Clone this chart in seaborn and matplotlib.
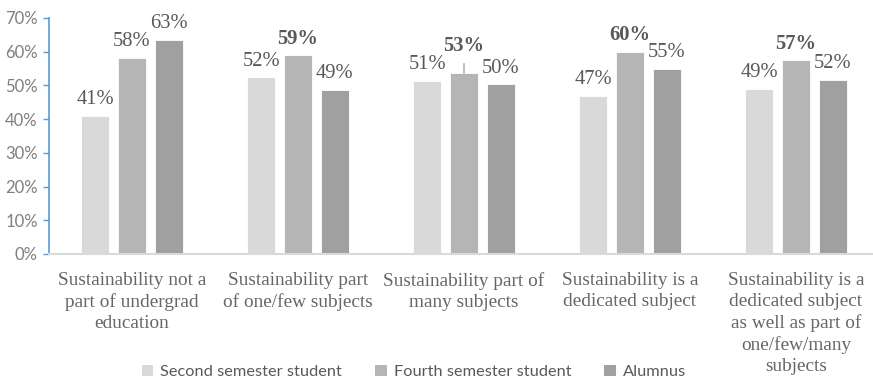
import matplotlib
matplotlib.use("Agg")
import matplotlib.pyplot as plt
import seaborn as sns
import pandas as pd
from matplotlib.patches import Patch
from matplotlib.ticker import FuncFormatter

categories = [
    "Sustainability not a\npart of undergrad\neducation",
    "Sustainability part\nof one/few subjects",
    "Sustainability part of\nmany subjects",
    "Sustainability is a\ndedicated subject",
    "Sustainability is a\ndedicated subject\nas well as part of\none/few/many\nsubjects",
]
series_names = ["Second semester student", "Fourth semester student", "Alumnus"]
second_sem = [41.0, 52.4, 51.3, 47.0, 49.0]
fourth_sem = [58.1, 58.9, 53.6, 59.9, 57.4]
alumnus = [63.4, 48.6, 50.3, 54.9, 51.6]
second_labels = ["41%", "52%", "51%", "47%", "49%"]
fourth_labels = ["58%", "59%", "53%", "60%", "57%"]
alumnus_labels = ["63%", "49%", "50%", "55%", "52%"]
fourth_bold = [False, True, True, True, True]
yticks = [0, 10, 20, 30, 40, 50, 60, 70]

colors = ["#D9D9D9", "#B5B5B5", "#A0A0A0"]
txt_col = "#595959"
cat_col = "#666666"

rows = []
for s, vals in zip(series_names, [second_sem, fourth_sem, alumnus]):
    for c, v in zip(categories, vals):
        rows.append({"cat": c, "series": s, "value": v})
df = pd.DataFrame(rows)

sns.set_theme(style="white")
plt.rcParams["font.family"] = ["Lato", "DejaVu Sans"]

fig = plt.figure(figsize=(8.73, 3.83), dpi=100)
ax = fig.add_axes([49 / 873, (383 - 254) / 383, 830 / 873, 236 / 383])

sns.barplot(data=df, x="cat", y="value", hue="series", order=categories,
            hue_order=series_names, palette=colors, width=0.663, gap=0.23,
            saturation=1, edgecolor="white", linewidth=0.6, legend=False, ax=ax)

ax.set_xlim(-0.5, len(categories) - 0.5)
ax.set_ylim(0, 70)
ax.set_yticks(yticks)
ax.yaxis.set_major_formatter(FuncFormatter(lambda v, p: f"{v:.0f}%"))
ax.set_xlabel("")
ax.set_ylabel("")

for sp in ["top", "right"]:
    ax.spines[sp].set_visible(False)
ax.spines["left"].set_color("#5B9BD5")
ax.spines["left"].set_linewidth(1.2)
ax.spines["bottom"].set_color("#D9D9D9")
ax.spines["bottom"].set_linewidth(1.5)

ax.tick_params(axis="y", which="major", left=True, length=4, width=1,
               color="#5B9BD5", labelsize=12, labelcolor="#7F7F7F", pad=4)
ax.tick_params(axis="x", bottom=False, pad=7)
ax.set_xticks(range(len(categories)))
ax.set_xticklabels(categories, fontfamily=["Liberation Serif"], fontsize=13.9,
                   color=cat_col, linespacing=1.3, va="top")

# data labels
containers = ax.containers
label_sets = [second_labels, fourth_labels, alumnus_labels]
for si, (cont, labs) in enumerate(zip(containers, label_sets)):
    for ci, (patch, lab) in enumerate(zip(cont.patches, labs)):
        x = patch.get_x() + patch.get_width() / 2
        h = patch.get_height()
        bold = si == 1 and fourth_bold[ci]
        if si == 1 and ci == 2:
            ax.annotate(lab, xy=(x, h), xytext=(0, 16), textcoords="offset points",
                        ha="center", va="baseline", fontsize=14.8,
                        fontfamily=["Liberation Serif"], color=txt_col,
                        fontweight="bold" if bold else "normal",
                        arrowprops=dict(arrowstyle="-", color="#A6A6A6", lw=1,
                                        shrinkA=3, shrinkB=0))
        else:
            ax.annotate(lab, xy=(x, h), xytext=(0, 8.5), textcoords="offset points",
                        ha="center", va="baseline", fontsize=14.8,
                        fontfamily=["Liberation Serif"], color=txt_col,
                        fontweight="bold" if bold else "normal")

handles = [Patch(facecolor=c, edgecolor="none") for c in colors]
fig.legend(handles, series_names, loc="center", bbox_to_anchor=(414 / 873, 1 - 372 / 383),
           ncol=3, frameon=False, fontsize=11.8, labelcolor=txt_col,
           handlelength=0.7, handleheight=0.7, handletextpad=0.45,
           columnspacing=2.0, borderaxespad=0, borderpad=0)

fig.savefig("out.png", dpi=100)
